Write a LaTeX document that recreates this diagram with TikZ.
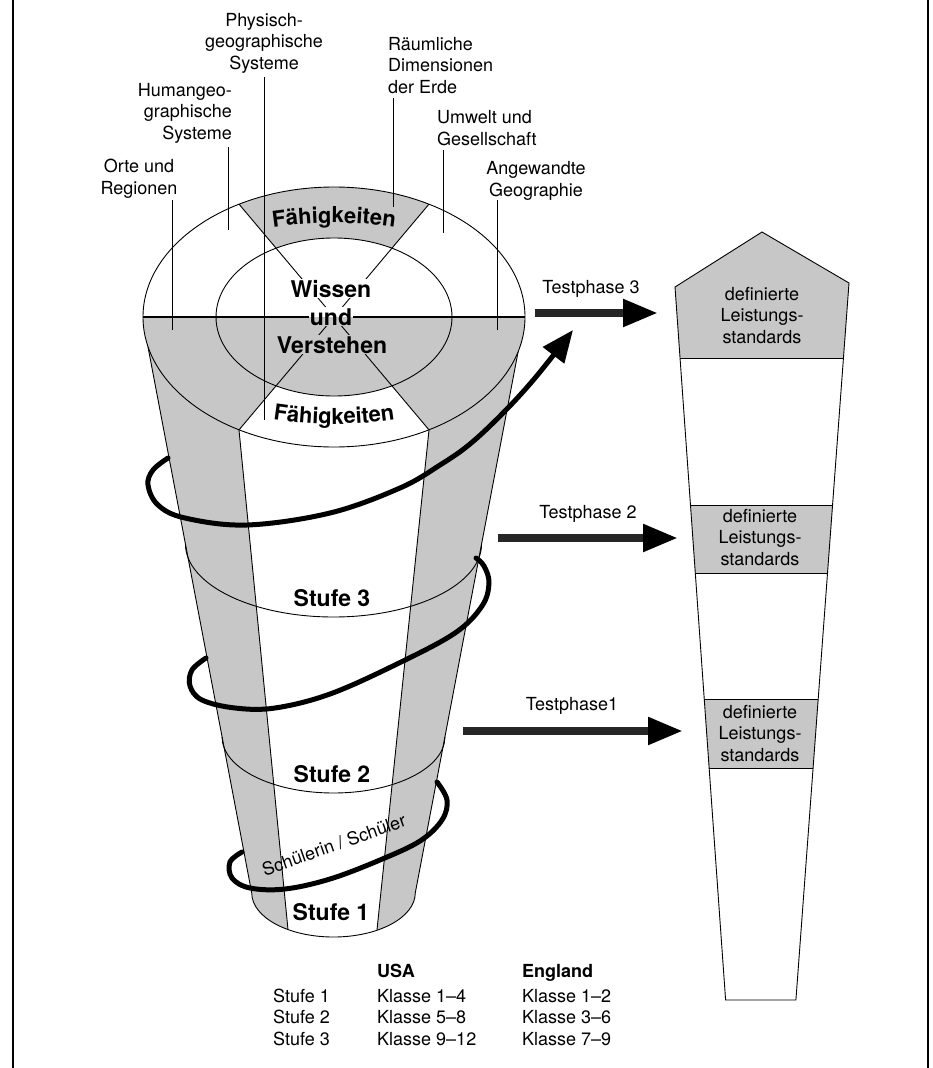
\documentclass[tikz,border=0pt]{standalone}
\usepackage{fontspec}
\setmainfont{TeX Gyre Heros}
\usetikzlibrary{arrows.meta,decorations.text}
\colorlet{greyfill}{black!22}
\begin{document}
\begin{tikzpicture}[x=1pt,y=-1pt,
  lbl/.style={font=\fontsize{18}{21.5}\selectfont, inner sep=0pt},
  bld/.style={font=\fontsize{23}{28}\selectfont\bfseries, inner sep=1pt},
  tbl/.style={font=\fontsize{18}{21.5}\selectfont, inner sep=0pt, anchor=base west},
  edge/.style={line width=0.9pt},
  leader/.style={line width=1pt},
  spiral/.style={line width=5pt, line cap=round},
  phase/.style={line width=8pt, draw=black!85, -{Triangle[length=35pt,width=26pt,fill=black,color=black]}}]
\useasboundingbox (0,0) rectangle (933,1068);
% frame
\coordinate (fl1) at (13,0); \coordinate (fl2) at (13,1068);
\coordinate (fr1) at (928,0); \coordinate (fr2) at (928,1068);
\draw[line width=1.8pt] (fl1) -- (fl2);
\draw[line width=1.8pt] (fr1) -- (fr2);
% ---------- cone body
\fill[white] (148,347) -- (251.74,893) arc[start angle=180,end angle=0,x radius=81.76,y radius=44] -- (519,347) -- cycle;
\begin{scope}
\clip (148,347) -- (251.74,893) arc[start angle=180,end angle=0,x radius=81.76,y radius=44] -- (519,347) -- (525,317) -- (143,317) -- cycle;
\fill[greyfill] (100,250) -- (221.4,250) -- (294.9,1000) -- (100,1000) -- cycle;
\fill[greyfill] (447.7,250) -- (600,250) -- (600,1000) -- (369.7,1000) -- cycle;
\draw[edge] (239,430) -- (294.9,1000);
\draw[edge] (429,430) -- (369.7,1000);
\end{scope}
\draw[edge] (185.43,544) arc[start angle=180,end angle=0,x radius=148.07,y radius=73];
\draw[edge] (222.1,737) arc[start angle=180,end angle=0,x radius=111.4,y radius=56];
\draw[edge] (148,347) -- (251.74,893) arc[start angle=180,end angle=0,x radius=81.76,y radius=44] -- (519,347);
% ---------- top face
\fill[white] (334,317) ellipse[x radius=191,y radius=130];
\fill[greyfill] (143,317) arc[start angle=180,end angle=0,x radius=191,y radius=130] -- cycle;
\fill[white] (334,317) -- (239.07,429.8) arc[start angle=119.8,end angle=60.2,x radius=191,y radius=130] -- cycle;
\fill[greyfill] (334,317) -- (239.07,204.2) arc[start angle=240.2,end angle=299.8,x radius=191,y radius=130] -- cycle;
\fill[white] (216,317) arc[start angle=180,end angle=360,x radius=118,y radius=79] -- cycle;
\fill[greyfill] (216,317) arc[start angle=180,end angle=0,x radius=118,y radius=79] -- cycle;
\draw[edge] (334,317) ellipse[x radius=191,y radius=130];
\draw[edge] (334,317) ellipse[x radius=118,y radius=79];
\draw[line width=1.5pt] (143,317) -- (525,317);
\draw[edge] (239.07,204.2) -- (428.93,429.8);
\draw[edge] (428.93,204.2) -- (239.07,429.8);
% ---------- labels and leaders (anchor base = last line)
\node[lbl, align=center, anchor=base] (phys) at (264,69) {Physisch-\\geographische\\Systeme};
\node[lbl, align=left, anchor=base west] (raum) at (388,93) {Räumliche\\Dimensionen\\der Erde};
\node[lbl, align=right, anchor=base east] (human) at (232,139) {Humangeo-\\graphische\\Systeme};
\node[lbl, align=left, anchor=base west] (umwelt) at (437,145) {Umwelt und\\Gesellschaft};
\node[lbl, align=center, anchor=base] (orte) at (139,194) {Orte und\\Regionen};
\node[lbl, align=center, anchor=base] (angew) at (536,196) {Angewandte\\Geographie};
\coordinate (physA) at (264,77);  \coordinate (physB) at (264,420);
\coordinate (raumA) at (393,98);  \coordinate (raumB) at (393,207);
\coordinate (humanA) at (228,147); \coordinate (humanB) at (228,230);
\coordinate (umweltA) at (443,150); \coordinate (umweltB) at (443,233);
\coordinate (orteA) at (172,200); \coordinate (orteB) at (172,330);
\coordinate (angewA) at (497,200); \coordinate (angewB) at (497,330);
\draw[leader] (physA) -- (physB);
\draw[leader] (raumA) -- (raumB);
\draw[leader] (humanA) -- (humanB);
\draw[leader] (umweltA) -- (umweltB);
\draw[leader] (orteA) -- (orteB);
\draw[leader] (angewA) -- (angewB);
% ---------- texts on the cone
\path[decorate, decoration={text along path, text align=center, text={|\fontsize{22}{26}\selectfont\bfseries|Fähigkeiten}}]
  (234,234.8) .. controls (300.7,219.07) and (367.3,219.07) .. (434,234.8);
\path[decorate, decoration={text along path, text align=center, text={|\fontsize{22}{26}\selectfont\bfseries|Fähigkeiten}}]
  (234,411.4) .. controls (300.7,428.2) and (367.3,428.2) .. (434,411.4);
\node[bld, fill=white, anchor=base] (wissen) at (331,297) {Wissen};
\node[bld, anchor=base, path picture={
   \fill[greyfill] (path picture bounding box.west) rectangle (path picture bounding box.south east);
   \fill[white] (path picture bounding box.north west) rectangle (path picture bounding box.east);}] (und) at (331,325) {und};
\node[bld, fill=greyfill, anchor=base] (verstehen) at (332,353) {Verstehen};
\node[bld, anchor=base] (s3) at (332,606) {Stufe 3};
\node[bld, anchor=base] (s2) at (332,782) {Stufe 2};
\node[bld, anchor=base] (s1) at (331,920) {Stufe 1};
\node[lbl, anchor=base, rotate=19.4] (schueler) at (336,851) {Schülerin / Schüler};
% ---------- spiral
\draw[spiral] plot[smooth, tension=0.6] coordinates {(242,852) (230,862) (232,878) (250,888) (285,889) (330,879) (380,860) (420,841) (442,820) (447,800) (437,782)};
\draw[spiral] plot[smooth, tension=0.6] coordinates {(206,658) (192,670) (190,686) (202,700) (235,708) (275,708) (330,694) (397,664) (455,633) (482,606) (489,583) (484,566) (476,558)};
\draw[spiral, -{Triangle[length=32pt,width=26pt]}] plot[smooth, tension=0.6] coordinates {(168,458) (153,470) (148,485) (158,505) (185,518) (247,525) (330,513) (400,488) (440,465) (470,444) (503,413) (535,378) (573,330)};
% ---------- column
\fill[greyfill] (762,232) -- (849,283) -- (843.45,358) -- (680.3,358) -- (675,287) -- cycle;
\fill[greyfill] (690.5,505) -- (832.6,505) -- (827.5,573) -- (695.3,573) -- cycle;
\fill[greyfill] (704.3,699) -- (818.2,699) -- (813.1,768) -- (709.2,768) -- cycle;
\draw[edge] (762,232) -- (849,283) -- (795.9,1000) -- (725.6,1000) -- (675,287) -- cycle;
\draw[edge] (680.3,358) -- (843.45,358);
\draw[edge] (690.5,505) -- (832.6,505);
\draw[edge] (695.3,573) -- (827.5,573);
\draw[edge] (704.3,699) -- (818.2,699);
\draw[edge] (709.2,768) -- (813.1,768);
\node[lbl, align=center, anchor=base] (std3) at (762,343) {definierte\\Leistungs-\\standards};
\node[lbl, align=center, anchor=base] (std2) at (760,565) {definierte\\Leistungs-\\standards};
\node[lbl, align=center, anchor=base] (std1) at (760,761) {definierte\\Leistungs-\\standards};
% ---------- test phase arrows
\coordinate (t3a) at (535,313); \coordinate (t3b) at (658,313);
\coordinate (t2a) at (498,538); \coordinate (t2b) at (678,538);
\coordinate (t1a) at (463,731); \coordinate (t1b) at (683,731);
\draw[phase] (t3a) -- (t3b);
\draw[phase] (t2a) -- (t2b);
\draw[phase] (t1a) -- (t1b);
\node[lbl, anchor=base] (tp3) at (591,293) {Testphase 3};
\node[lbl, anchor=base] (tp2) at (588,518) {Testphase 2};
\node[lbl, anchor=base] (tp1) at (572,710) {Testphase1};
% ---------- table
\node[tbl, font=\fontsize{18}{21.5}\selectfont\bfseries] (usa) at (377,977) {USA};
\node[tbl, font=\fontsize{18}{21.5}\selectfont\bfseries] (eng) at (522,977) {England};
\node[tbl] (r1a) at (273,1002) {Stufe 1};
\node[tbl] (r1b) at (377,1002) {Klasse 1--4};
\node[tbl] (r1c) at (522,1002) {Klasse 1--2};
\node[tbl] (r2a) at (273,1023.5) {Stufe 2};
\node[tbl] (r2b) at (377,1023.5) {Klasse 5--8};
\node[tbl] (r2c) at (522,1023.5) {Klasse 3--6};
\node[tbl] (r3a) at (273,1045) {Stufe 3};
\node[tbl] (r3b) at (377,1045) {Klasse 9--12};
\node[tbl] (r3c) at (522,1045) {Klasse 7--9};
\end{tikzpicture}
\end{document}
